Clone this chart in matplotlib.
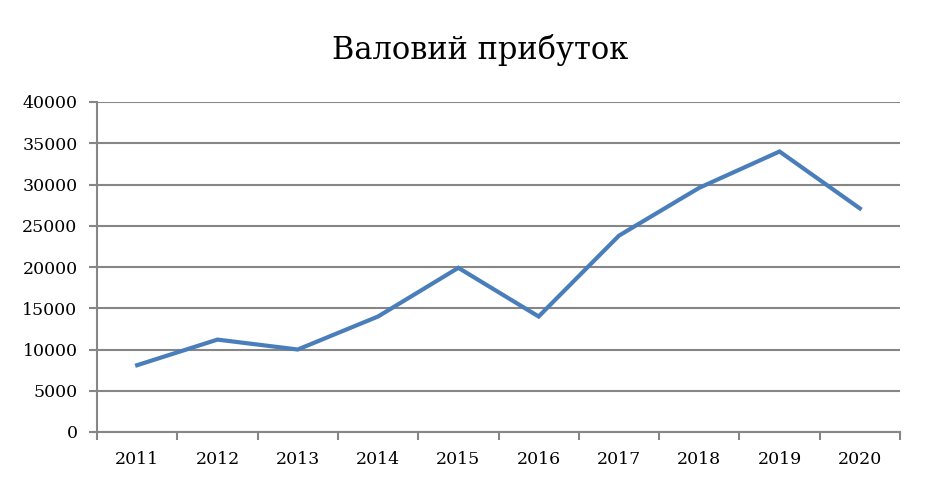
import matplotlib
matplotlib.use('Agg')
import matplotlib.pyplot as plt

years = ['2011', '2012', '2013', '2014', '2015', '2016', '2017', '2018', '2019', '2020']
gross_profit = [8100, 11200, 10000, 14000, 19900, 14000, 23800, 29600, 34000, 27100]
y_ticks = [0, 5000, 10000, 15000, 20000, 25000, 30000, 35000, 40000]

plt.rcParams['font.family'] = ['DejaVu Serif']
grey = '#868686'

fig = plt.figure(figsize=(9.34, 4.88), dpi=100)
W, H = 934, 488
ax = fig.add_axes([97 / W, (H - 432) / H, (900 - 97) / W, (432 - 102) / H])

xs = list(range(len(years)))
ax.plot(xs, gross_profit, color='#4A7EBB', linewidth=3.0, solid_joinstyle='miter', zorder=3)

ax.set_xlim(-0.5, len(years) - 0.5)
ax.set_ylim(0, 40000)
ax.set_yticks(y_ticks)
ax.set_yticklabels([str(v) for v in y_ticks], fontsize=12.5)
ax.set_xticks(xs)
ax.set_xticklabels(years, fontsize=12.5)
ax.tick_params(axis='x', length=0, pad=14)
ax.set_xticks([i - 0.5 for i in range(len(years) + 1)], minor=True)
ax.tick_params(axis='x', which='minor', length=6, width=1.5, color=grey, direction='out')
ax.tick_params(axis='y', length=6, width=1.5, color=grey, direction='out', pad=8)

ax.grid(axis='y', color=grey, linewidth=1.5)
ax.set_axisbelow(True)
for side in ['top', 'right']:
    ax.spines[side].set_visible(False)
for side in ['left', 'bottom']:
    ax.spines[side].set_color(grey)
    ax.spines[side].set_linewidth(1.5)

fig.text(480 / W, 1 - 50 / H, 'Валовий прибуток', ha='center', va='center', fontsize=22)

fig.savefig('out.png', dpi=100)
